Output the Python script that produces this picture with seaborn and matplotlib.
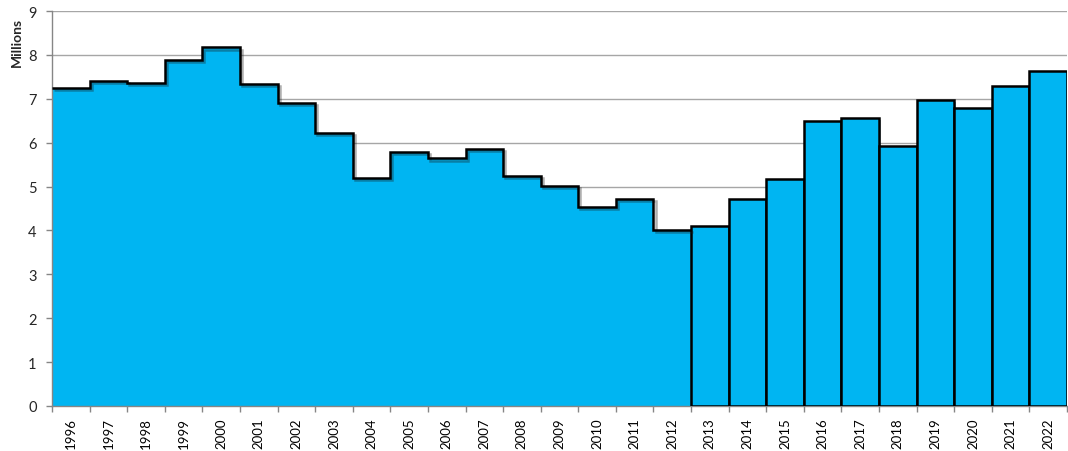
import numpy as np
import pandas as pd
import matplotlib
matplotlib.use("Agg")
import matplotlib.pyplot as plt
import matplotlib.patheffects as pe
import seaborn as sns

# Du lieu (trieu)
years = [str(y) for y in range(1996, 2023)]
area_values = [7.25, 7.41, 7.37, 7.89, 8.17, 7.34, 6.90, 6.23, 5.19, 5.79,
               5.64, 5.85, 5.25, 5.02, 4.53, 4.71, 4.01]  # 1996-2012
bar_years = years[17:]  # 2013-2022
bar_values = [4.11, 4.71, 5.17, 6.49, 6.57, 5.93, 6.97, 6.79, 7.30, 7.64]

fill_color = "#00B5F2"
axis_gray = "#868686"

sns.set_theme(style="white")
plt.rcParams['font.family'] = ['Lato', 'DejaVu Sans']

fig = plt.figure(figsize=(10.68, 4.52), dpi=100)
ax = fig.add_axes([52 / 1068, 45 / 452, 1015 / 1068, 395 / 452])

# phan cot 2013-2022
df_bars = pd.DataFrame({"year": bar_years, "value": bar_values})
sns.barplot(data=df_bars, x="year", y="value", order=years, color=fill_color,
            saturation=1, width=1, edgecolor="black", linewidth=1.8, ax=ax,
            zorder=3)
shadow = [pe.SimplePatchShadow(offset=(1.5, -1.5), alpha=0.35), pe.Normal()]
for p in ax.patches:
    p.set_path_effects(shadow)

# phan vung bac thang 1996-2012
edges = np.arange(len(area_values) + 1) - 0.5
ax.stairs(area_values, edges, fill=True, color=fill_color, zorder=2)
ax.stairs(area_values, edges, baseline=None, color="black", linewidth=1.8,
          zorder=3,
          path_effects=[pe.SimpleLineShadow(offset=(1.5, -1.5), alpha=0.35),
                        pe.Normal()])

# truc
ax.set_ylim(0, 9)
ax.set_xlim(-0.5, len(years) - 0.5)
ax.set_yticks(range(10))
ax.yaxis.grid(True, color="#A6A6A6", linewidth=1)
ax.xaxis.grid(False)
ax.set_axisbelow(True)

ax.set_xticks(range(len(years)))
ax.set_xticklabels(years, rotation=90)
ax.set_xticks(np.arange(len(years) + 1) - 0.5, minor=True)
ax.tick_params(axis="x", which="major", length=0, pad=8, labelsize=9.5,
               colors="black")
ax.tick_params(axis="x", which="minor", bottom=True, length=4, width=1,
               color=axis_gray)
ax.tick_params(axis="y", left=True, length=4, width=1, color=axis_gray,
               labelsize=10.5, pad=7)
ax.set_xlabel("")
ax.set_ylabel("")

for s in ["top", "right"]:
    ax.spines[s].set_visible(False)
for s in ["left", "bottom"]:
    ax.spines[s].set_color(axis_gray)
    ax.spines[s].set_linewidth(1)

fig.text(17 / 1068, 1 - 42 / 452, "Millions", rotation=90, fontweight="bold",
         fontsize=10, ha="center", va="center")

fig.savefig("out.png", dpi=100)
